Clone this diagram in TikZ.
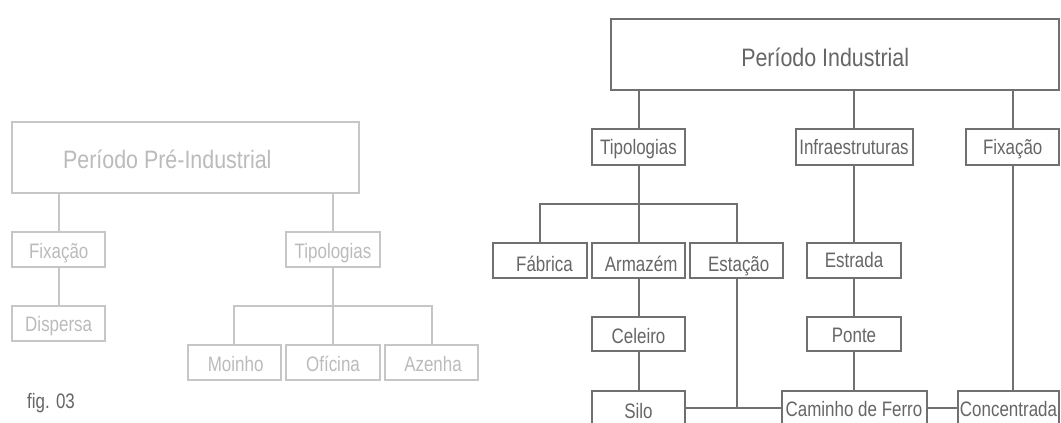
\documentclass[tikz,border=0pt]{standalone}
\usepackage{fontspec}
\setmainfont{Liberation Sans}[FakeStretch=0.81]
\newfontfamily\bigfont{Liberation Sans}[FakeStretch=0.85]
\definecolor{rline}{HTML}{707070}
\definecolor{rtext}{HTML}{666666}
\definecolor{lline}{HTML}{C6C6C6}
\definecolor{ltext}{HTML}{BBBBBB}
\begin{document}
\begin{tikzpicture}[x=0.75pt,y=-0.75pt,
  sz/.style 2 args={minimum width=#1*0.75pt,minimum height=#2*0.75pt},
  th/.style={text height=#1*0.75pt,text depth=0pt},
  rbox/.style={draw=rline,line width=1.5pt,text=rtext,inner sep=0pt,
    font=\fontsize{15.7}{18}\selectfont,th=15},
  lbox/.style={draw=lline,line width=1.5pt,text=ltext,inner sep=0pt,
    font=\fontsize{15.7}{18}\selectfont,th=18},
  big/.style={font=\bigfont\fontsize{18.9}{22}\selectfont,th=22.8},
  rcon/.style={draw=rline,line width=1.5pt},
  lcon/.style={draw=lline,line width=1.5pt}]
\useasboundingbox (0,0) rectangle (1061,423);
\fill[white] (0,0) rectangle (1061,423);
\clip (0,0) rectangle (1061,423);

% ---------- left tree (pre-industrial) ----------
\node[lbox,big,sz={346.7}{70.8}] (pre) at (185.3,157.6) {Período Pré-Industrial\hspace*{27pt}};
\node[lbox,sz={93.3}{34.7}] (fixL) at (58.7,249.3) {Fixação};
\node[lbox,sz={93.3}{34.7},th=16] (disp) at (58.7,323.3) {Dispersa};
\node[lbox,sz={93.3}{34.7}] (tipL) at (333,249.3) {Tipologias};
\node[lbox,sz={93.3}{34.7}] (moinho) at (234.3,362.7) {\hspace*{2pt}Moinho};
\node[lbox,sz={93.3}{34.7}] (oficina) at (333,362.7) {Ofícina};
\node[lbox,sz={93.3}{34.7}] (azenha) at (431.7,362.7) {\hspace*{2pt}Azenha};
\node[text=rtext,inner sep=0pt,font=\fontsize{15.7}{18}\selectfont] (fig) at (51,403) {fig. 03};

\coordinate (lbus) at (333,306);
\draw[lcon] (pre.south -| fixL.north) -- (fixL.north);
\draw[lcon] (pre.south -| tipL.north) -- (tipL.north);
\draw[lcon] (fixL.south) -- (disp.north);
\draw[lcon] (tipL.south) -- (oficina.north);
\draw[lcon] (moinho.north) -- (moinho.north |- lbus) -- (azenha.north |- lbus) -- (azenha.north);

% ---------- right tree (industrial) ----------
\node[rbox,big,sz={447.7}{70.7}] (ind) at (835.2,54.7) {Período Industrial\hspace*{15pt}};
\node[rbox,sz={93}{35.5}] (tip) at (638.5,146.8) {Tipologias};
\node[rbox,sz={117}{35.5}] (infra) at (854,146.8) {Infraestruturas};
\node[rbox,sz={93.5}{35.5}] (fix) at (1012.7,146.8) {Fixação};

\node[rbox,sz={93.3}{35.3},th=23.4] (fab) at (540,260.3) {\hspace*{6.7pt}Fábrica};
\node[rbox,sz={93.3}{35.3},th=23.4] (arm) at (638.5,260.3) {\hspace*{4pt}Armazém};
\node[rbox,sz={93.3}{35.3},th=23.4] (est) at (736.7,260.3) {\hspace*{3pt}Estação};
\node[rbox,sz={94}{35.3},th=14] (estr) at (854,260.3) {Estrada};

\node[rbox,sz={93.3}{34.3},th=19.6] (cel) at (638.5,334.2) {Celeiro};
\node[rbox,sz={94}{34.3},th=16.2] (pon) at (854,334.2) {Ponte};

\node[rbox,sz={93.3}{35.3},th=20.8] (silo) at (638.5,408.3) {Silo};
\node[rbox,sz={145}{35.3},th=16] (cam) at (854,408.3) {Caminho de Ferro};
\node[rbox,sz={101.6}{35.3},th=16] (conc) at (1008.5,408.3) {Concentrada};

\coordinate (rbus) at (638.5,204);
\draw[rcon] (ind.south -| tip.north) -- (tip.north);
\draw[rcon] (ind.south -| infra.north) -- (infra.north);
\draw[rcon] (ind.south -| fix.north) -- (fix.north);
\draw[rcon] (tip.south) -- (arm.north);
\draw[rcon] (fab.north) -- (fab.north |- rbus) -- (est.north |- rbus) -- (est.north);
\draw[rcon] (infra.south) -- (estr.north);
\draw[rcon] (estr.south) -- (pon.north);
\draw[rcon] (pon.south) -- (cam.north);
\draw[rcon] (arm.south) -- (cel.north);
\draw[rcon] (cel.south) -- (silo.north);
\draw[rcon] (fix.south) -- (fix.south |- conc.north);
\draw[rcon] (silo.east) -- (cam.west);
\draw[rcon] (est.south) -- (est.south |- silo.east);
\draw[rcon] (cam.east) -- (conc.west);
\end{tikzpicture}
\end{document}
